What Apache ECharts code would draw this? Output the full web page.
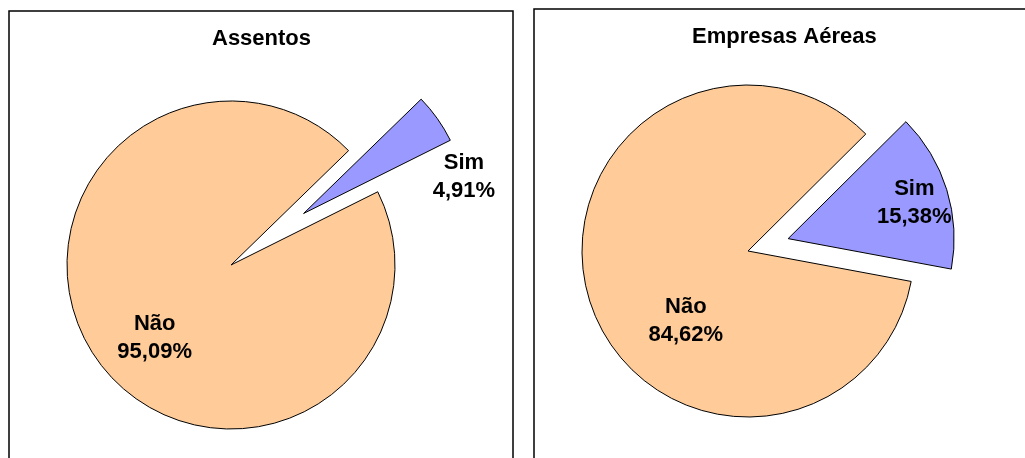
<!DOCTYPE html>
<html>
<head>
<meta charset="utf-8">
<script src="https://cdn.jsdelivr.net/npm/echarts@6/dist/echarts.min.js"></script>
<style>
  html, body { margin: 0; padding: 0; background: #fff; }
  #container { width: 1025px; height: 458px; }
</style>
</head>
<body>
<div id="container"></div>
<script>
// data
var categories = ['Sim', 'Não'];
var assentosValues = [4.91, 95.09];
var empresasValues = [15.38, 84.62];
var chartTitles = ['Assentos', 'Empresas Aéreas'];

var colors = ['#9999FF', '#FFCC99'];

// label nudges (dx, dy) per slice, per chart
var labelShift = [
    [[91, 13], [-7, 24]],
    [[44, -10], [20, 45]]
];

function fmt(p) {
    return p.name + '\n' + p.value.toFixed(2).replace('.', ',') + '%';
}

function buildData(values) {
    return categories.map(function (name, i) {
        return {
            name: name,
            value: values[i],
            selected: i === 0,
            itemStyle: { color: colors[i] },
            select: { itemStyle: { color: colors[i], borderColor: '#000', borderWidth: 1 } }
        };
    });
}

function pieSeries(idx, values, center, radius, startAngle, offset) {
    return {
        type: 'pie',
        center: center,
        radius: radius,
        startAngle: startAngle,
        clockwise: true,
        selectedMode: 'single',
        selectedOffset: offset,
        silent: true,
        emphasis: { disabled: true },
        itemStyle: { borderColor: '#000', borderWidth: 1 },
        label: {
            show: true,
            position: 'inside',
            formatter: fmt,
            color: '#000',
            fontFamily: 'Liberation Sans, Arial, sans-serif',
            fontWeight: 'bold',
            fontSize: 22,
            lineHeight: 28
        },
        labelLine: { show: false },
        labelLayout: function (p) {
            var s = labelShift[idx][p.dataIndex];
            return { dx: s[0], dy: s[1] };
        },
        data: buildData(values)
    };
}

var dom = document.getElementById('container');
var myChart = echarts.init(dom, null, { renderer: 'canvas' });

var titleStyle = {
    color: '#000',
    fontFamily: 'Liberation Sans, Arial, sans-serif',
    fontWeight: 'bold',
    fontSize: 22
};

var option = {
    animation: false,
    backgroundColor: '#fff',
    title: [
        { text: chartTitles[0], left: 212, top: 28, padding: 0, textStyle: titleStyle },
        { text: chartTitles[1], left: 692, top: 26, padding: 0, textStyle: titleStyle }
    ],
    graphic: [
        { type: 'rect', shape: { x: 9, y: 11, width: 504, height: 470 }, style: { fill: 'none', stroke: '#000', lineWidth: 1.5 }, z: -1 },
        { type: 'rect', shape: { x: 534, y: 9, width: 520, height: 470 }, style: { fill: 'none', stroke: '#000', lineWidth: 1.5 }, z: -1 }
    ],
    series: [
        pieSeries(0, assentosValues, [231, 265], 164, 44.2, 89),
        pieSeries(1, empresasValues, [748, 251], 166, 44.8, 42)
    ]
};

myChart.setOption(option);
window.addEventListener('resize', myChart.resize);
</script>
</body>
</html>
